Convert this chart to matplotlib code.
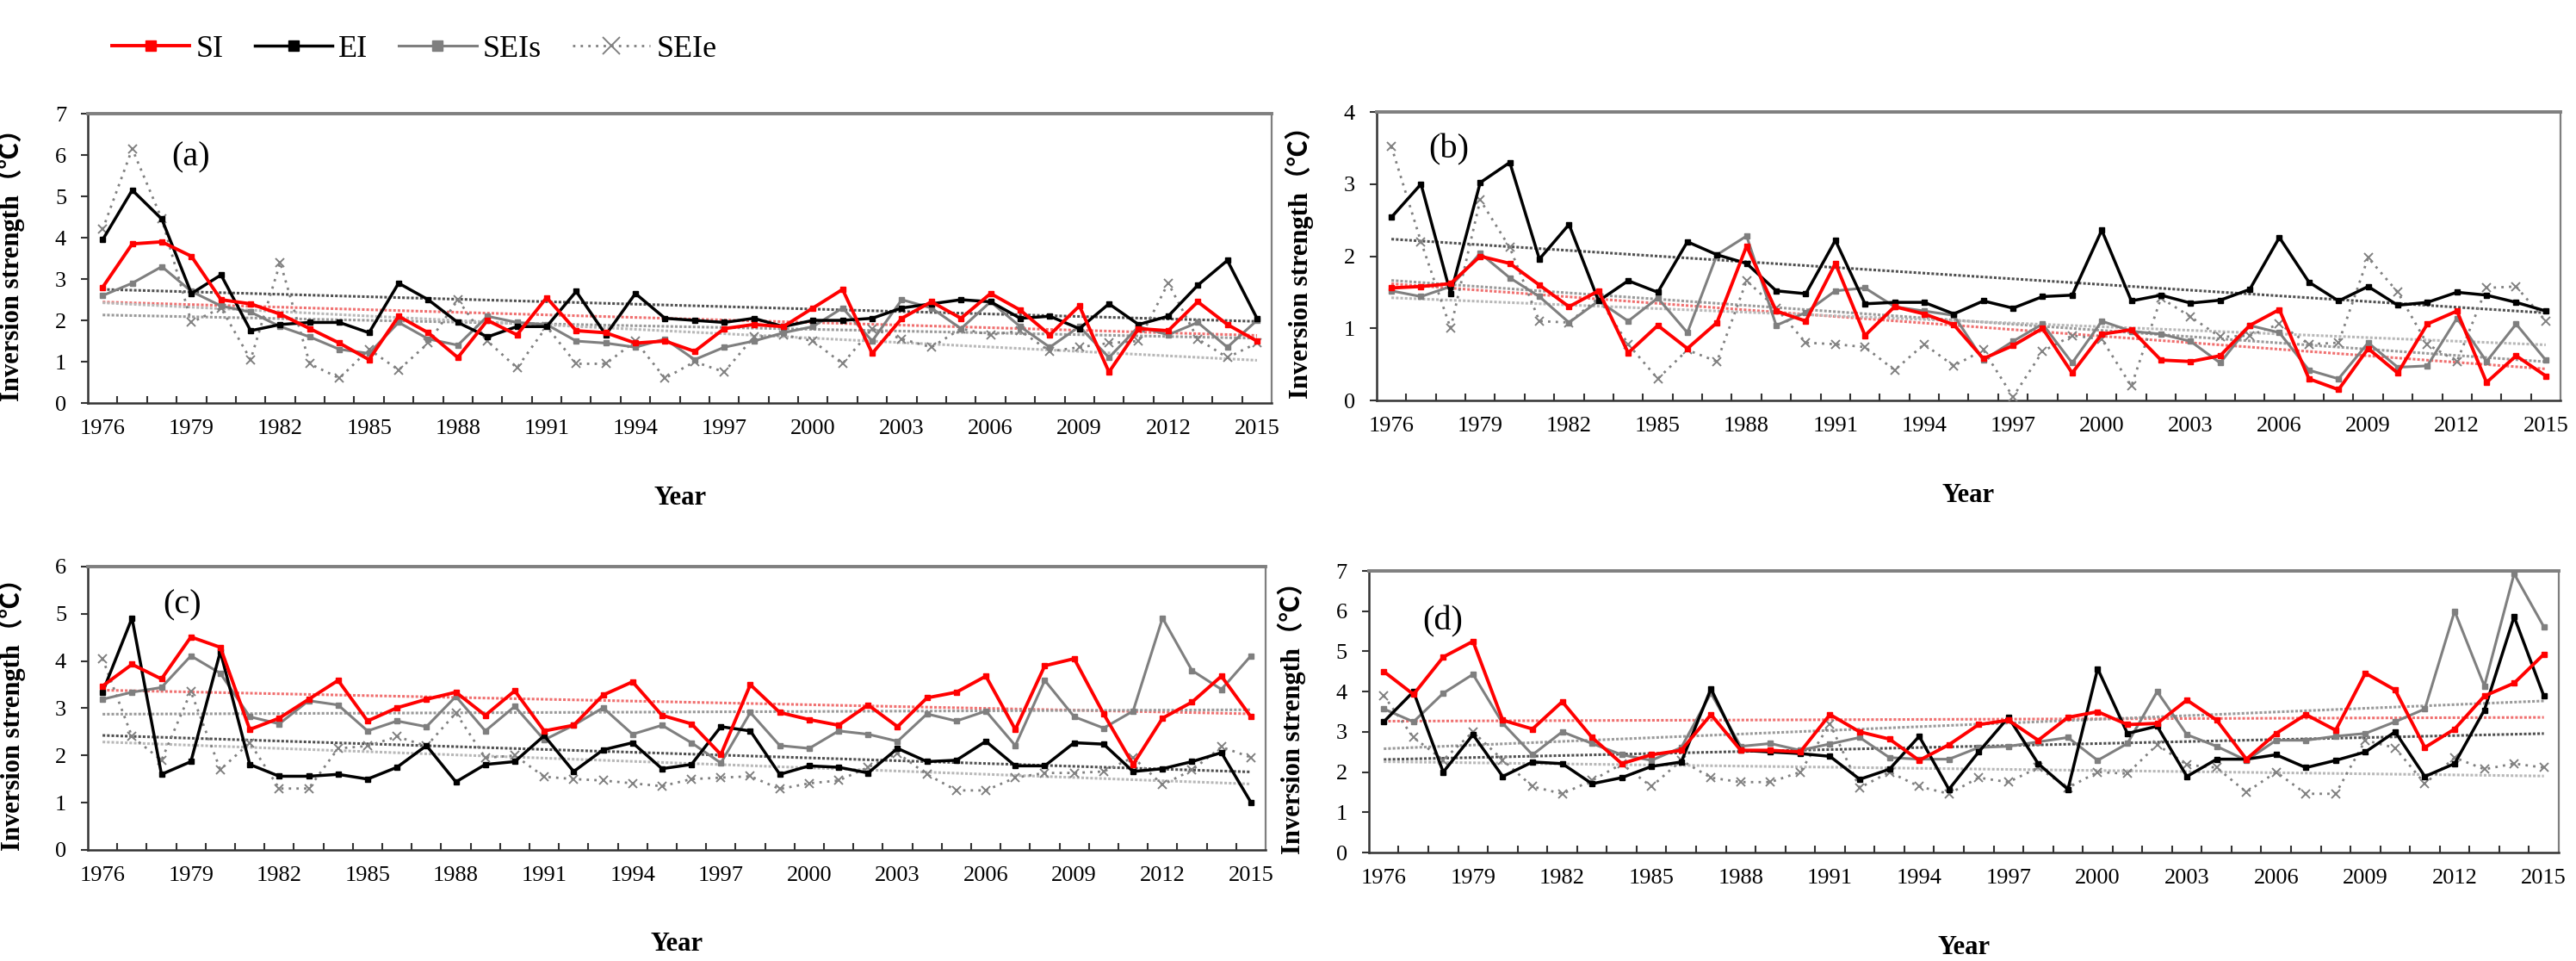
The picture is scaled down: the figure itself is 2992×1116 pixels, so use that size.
import matplotlib
matplotlib.use('Agg')
import matplotlib.pyplot as plt
from matplotlib.ticker import MultipleLocator, FixedLocator
import numpy as np

plt.rcParams['font.family'] = ['Liberation Serif', 'Noto Sans CJK SC', 'DejaVu Sans']

years = list(range(1976, 2016))
year_labels = list(range(1976, 2016, 3))
series_names = ['SI', 'EI', 'SEIs', 'SEIe']

# panel (a)
si_a = [2.8, 3.85, 3.9, 3.55, 2.5, 2.4, 2.15, 1.8, 1.45, 1.05, 2.1, 1.7, 1.1, 2.0, 1.65, 2.55, 1.75, 1.7, 1.45, 1.5,
        1.25, 1.8, 1.9, 1.85, 2.3, 2.75, 1.2, 2.05, 2.45, 2.05, 2.65, 2.25, 1.65, 2.35, 0.75, 1.8, 1.75, 2.45, 1.9, 1.5]
ei_a = [3.95, 5.15, 4.45, 2.65, 3.1, 1.75, 1.9, 1.95, 1.95, 1.7, 2.9, 2.5, 1.95, 1.6, 1.85, 1.85, 2.7, 1.65, 2.65, 2.05,
        2.0, 1.95, 2.05, 1.85, 2.0, 2.0, 2.05, 2.3, 2.4, 2.5, 2.45, 2.05, 2.1, 1.8, 2.4, 1.9, 2.1, 2.85, 3.45, 2.05]
seis_a = [2.6, 2.9, 3.3, 2.7, 2.35, 2.2, 1.85, 1.6, 1.3, 1.2, 1.95, 1.55, 1.4, 2.1, 1.95, 1.9, 1.5, 1.45, 1.35, 1.55,
          1.05, 1.35, 1.5, 1.7, 1.85, 2.3, 1.5, 2.5, 2.3, 1.8, 2.45, 1.85, 1.35, 1.85, 1.1, 1.85, 1.65, 1.95, 1.35, 2.0]
seie_a = [4.2, 6.15, 4.45, 1.95, 2.3, 1.05, 3.4, 0.95, 0.6, 1.3, 0.8, 1.45, 2.5, 1.5, 0.85, 1.85, 0.95, 0.95, 1.5, 0.6,
          1.0, 0.75, 1.6, 1.65, 1.5, 0.95, 1.8, 1.55, 1.35, 1.8, 1.65, 1.75, 1.25, 1.35, 1.45, 1.5, 2.9, 1.55, 1.1, 1.45]

# panel (b)
si_b = [1.56, 1.58, 1.62, 2.0, 1.9, 1.6, 1.3, 1.52, 0.66, 1.04, 0.72, 1.08, 2.14, 1.24, 1.1, 1.9, 0.9, 1.3, 1.2, 1.05,
        0.58, 0.76, 1.0, 0.38, 0.92, 0.98, 0.56, 0.54, 0.62, 1.04, 1.26, 0.3, 0.15, 0.72, 0.38, 1.06, 1.24, 0.25, 0.62, 0.34]
ei_b = [2.54, 3.0, 1.48, 3.02, 3.3, 1.96, 2.44, 1.38, 1.66, 1.5, 2.2, 2.02, 1.9, 1.52, 1.48, 2.22, 1.34, 1.36, 1.36, 1.2,
        1.38, 1.28, 1.44, 1.46, 2.36, 1.38, 1.46, 1.35, 1.39, 1.54, 2.26, 1.64, 1.38, 1.58, 1.32, 1.36, 1.5, 1.46, 1.36, 1.24]
seis_b = [1.52, 1.44, 1.58, 2.04, 1.7, 1.44, 1.08, 1.38, 1.1, 1.42, 0.94, 2.02, 2.28, 1.04, 1.22, 1.52, 1.56, 1.3, 1.24, 1.18,
          0.56, 0.82, 1.06, 0.52, 1.1, 0.96, 0.92, 0.82, 0.52, 1.04, 0.94, 0.42, 0.3, 0.8, 0.46, 0.48, 1.14, 0.54, 1.06, 0.56]
seie_b = [3.52, 2.2, 1.0, 2.78, 2.12, 1.1, 1.08, 1.42, 0.78, 0.3, 0.7, 0.54, 1.66, 1.28, 0.8, 0.78, 0.74, 0.42, 0.78, 0.48,
          0.7, 0.05, 0.68, 0.9, 0.85, 0.2, 1.42, 1.16, 0.88, 0.9, 1.06, 0.78, 0.8, 1.98, 1.5, 0.78, 0.54, 1.56, 1.58, 1.1]

# panel (c)
si_c = [3.47, 3.93, 3.62, 4.51, 4.29, 2.55, 2.79, 3.19, 3.59, 2.73, 3.01, 3.19, 3.34, 2.85, 3.37, 2.52, 2.64, 3.28, 3.56, 2.85,
        2.67, 2.02, 3.5, 2.91, 2.76, 2.64, 3.07, 2.61, 3.22, 3.34, 3.68, 2.55, 3.9, 4.05, 2.88, 1.81, 2.79, 3.13, 3.68, 2.82]
ei_c = [3.34, 4.91, 1.6, 1.87, 4.2, 1.81, 1.56, 1.56, 1.6, 1.5, 1.75, 2.21, 1.44, 1.81, 1.87, 2.42, 1.66, 2.12, 2.27, 1.72,
        1.81, 2.61, 2.52, 1.6, 1.78, 1.75, 1.63, 2.15, 1.87, 1.9, 2.3, 1.78, 1.78, 2.27, 2.24, 1.66, 1.72, 1.87, 2.06, 1.01]
seis_c = [3.19, 3.34, 3.44, 4.11, 3.74, 2.82, 2.67, 3.16, 3.07, 2.52, 2.73, 2.61, 3.25, 2.52, 3.04, 2.33, 2.64, 3.01, 2.45, 2.64,
          2.27, 1.84, 2.91, 2.21, 2.15, 2.52, 2.45, 2.3, 2.88, 2.73, 2.94, 2.21, 3.59, 2.82, 2.58, 2.94, 4.91, 3.8, 3.4, 4.11]
seie_c = [4.05, 2.4, 1.9, 3.35, 1.7, 2.27, 1.3, 1.3, 2.15, 2.2, 2.4, 2.2, 2.9, 1.95, 2.0, 1.55, 1.5, 1.47, 1.41, 1.35,
          1.5, 1.53, 1.56, 1.29, 1.41, 1.47, 1.75, 2.05, 1.6, 1.26, 1.26, 1.53, 1.63, 1.63, 1.66, 1.96, 1.38, 1.69, 2.18, 1.96]

# panel (d)
si_d = [4.5, 3.93, 4.86, 5.25, 3.29, 3.07, 3.75, 2.86, 2.21, 2.43, 2.54, 3.43, 2.54, 2.54, 2.5, 3.43, 3.0, 2.82, 2.29, 2.68,
        3.18, 3.29, 2.79, 3.36, 3.5, 3.18, 3.21, 3.79, 3.29, 2.32, 2.96, 3.43, 3.04, 4.46, 4.04, 2.61, 3.07, 3.89, 4.21, 4.93]
ei_d = [3.25, 4.0, 2.0, 2.93, 1.89, 2.25, 2.21, 1.71, 1.86, 2.14, 2.25, 4.07, 2.54, 2.5, 2.46, 2.39, 1.82, 2.07, 2.89, 1.57,
        2.5, 3.36, 2.21, 1.57, 4.57, 2.96, 3.14, 1.89, 2.32, 2.32, 2.43, 2.11, 2.29, 2.5, 3.0, 1.89, 2.21, 3.54, 5.86, 3.89]
seis_d = [3.57, 3.25, 3.96, 4.43, 3.21, 2.43, 3.0, 2.71, 2.43, 2.29, 2.61, 3.96, 2.64, 2.71, 2.54, 2.7, 2.86, 2.36, 2.32, 2.32,
          2.61, 2.64, 2.75, 2.86, 2.29, 2.71, 4.0, 2.93, 2.64, 2.29, 2.79, 2.79, 2.89, 2.96, 3.25, 3.57, 6.0, 4.14, 6.93, 5.61]
seie_d = [3.9, 2.86, 2.3, 3.0, 2.3, 1.64, 1.46, 1.79, 2.2, 1.64, 2.29, 1.86, 1.75, 1.75, 2.0, 3.2, 1.61, 2.0, 1.64, 1.46,
          1.86, 1.75, 2.11, 1.61, 2.0, 1.96, 2.68, 2.18, 2.11, 1.5, 2.0, 1.46, 1.46, 2.79, 2.6, 1.71, 2.36, 2.07, 2.21, 2.11]

panel_tags = ['(a)', '(b)', '(c)', '(d)']
panel_ymax = [7, 4, 6, 7]
panel_data = [(si_a, ei_a, seis_a, seie_a), (si_b, ei_b, seis_b, seie_b),
              (si_c, ei_c, seis_c, seie_c), (si_d, ei_d, seis_d, seie_d)]

# layout in figure fractions (left, bottom, width, height)
positions = [[0.0341, 0.5806, 0.4596, 0.3011],
             [0.5344, 0.5833, 0.4596, 0.3002],
             [0.0341, 0.1156, 0.4572, 0.2948],
             [0.5314, 0.1129, 0.4619, 0.2930]]
tag_pos = [(0.087, 0.85), (0.061, 0.87), (0.08, 0.865), (0.062, 0.82)]

styles = [dict(color='#ff0000', lw=2.8, marker='s', ms=4.5, ls='-', zorder=6),
          dict(color='#000000', lw=2.5, marker='s', ms=4.5, ls='-', zorder=5),
          dict(color='#7f7f7f', lw=2.2, marker='s', ms=4.5, ls='-', zorder=4),
          dict(color='#808080', lw=2.0, marker='x', ms=7, mew=1.4, ls=(0, (1, 2.2)), zorder=3)]
trend_colors = ['#f07070', '#505050', '#9a9a9a', '#b8b8b8']

fig = plt.figure(figsize=(29.92, 11.16), dpi=100)
axes = []
for i in range(4):
    ax = fig.add_axes(positions[i])
    axes.append(ax)
    x = np.array(years)
    for k, vals in enumerate(panel_data[i]):
        p = np.polyfit(x, vals, 1)
        ax.plot(x, np.polyval(p, x), color=trend_colors[k], lw=2.2, ls=(0, (1, 0.7)), zorder=2)
    for k, vals in enumerate(panel_data[i]):
        ax.plot(years, vals, label=series_names[k], **styles[k])

    ax.set_xlim(1975.5, 2015.5)
    ax.set_ylim(0, panel_ymax[i])
    ax.yaxis.set_major_locator(MultipleLocator(1))
    ax.xaxis.set_major_locator(FixedLocator(year_labels))
    ax.xaxis.set_minor_locator(FixedLocator(np.arange(1976.5, 2015.5, 1)))
    ax.set_xticklabels([str(y) for y in year_labels])
    ax.tick_params(axis='x', which='major', length=0, pad=14, labelsize=19)
    ax.tick_params(axis='x', which='minor', direction='in', length=6, width=1.5, color='#333333')
    ax.tick_params(axis='y', direction='out', length=6, width=1.5, pad=12, labelsize=19, color='#333333')

    ax.spines['top'].set_color('#7f7f7f')
    ax.spines['top'].set_linewidth(2.8)
    ax.spines['right'].set_color('#7f7f7f')
    ax.spines['right'].set_linewidth(1.6)
    ax.spines['left'].set_color('#333333')
    ax.spines['left'].set_linewidth(1.8)
    ax.spines['bottom'].set_color('#333333')
    ax.spines['bottom'].set_linewidth(1.8)

    ax.set_ylabel('Inversion strength（℃）', fontsize=22, fontweight='bold')
    ax.yaxis.set_label_coords(-0.053, 0.5)
    ax.text(tag_pos[i][0], tag_pos[i][1], panel_tags[i], transform=ax.transAxes,
            fontsize=29, ha='center', va='center')

    # "Year" sits about 110 px under the axis line
    l, b, w, h = positions[i]
    fig.text(l + w / 2, b - 110 / 1116, 'Year', fontsize=22, fontweight='bold', ha='center', va='center')

handles, labels = axes[0].get_legend_handles_labels()
fig.legend(handles, labels, loc='center left', bbox_to_anchor=(0.0374, 0.949), ncol=4, frameon=False,
           fontsize=26, handlelength=2.5, handletextpad=0.2, columnspacing=1.0, borderpad=0, markerscale=2)

fig.savefig('out.png', dpi=100)
